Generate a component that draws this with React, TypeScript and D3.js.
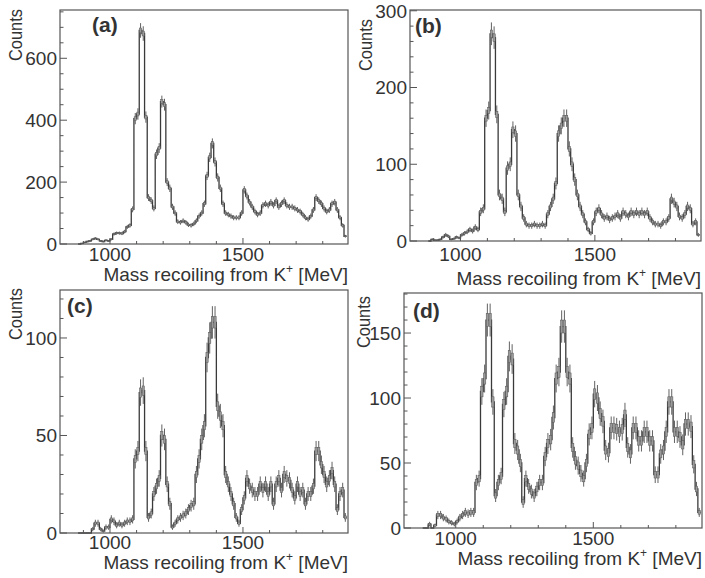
import React from "react";
import * as d3 from "d3";

// ---------- data ----------
const BIN_START = 880; // MeV, lower edge of first bin
const BIN_WIDTH = 10; // MeV

// (a)
const countsA = [
  0, 2, 5, 8, 10, 15, 18, 15, 10, 8,
  12, 10, 15, 32, 35, 35, 34, 40, 55, 60,
  112, 405, 420, 690, 680, 410, 150, 140, 115, 290,
  310, 460, 450, 200, 180, 120, 100, 72, 70, 75,
  70, 62, 60, 65, 75, 90, 100, 130, 220, 280,
  325, 265, 215, 180, 130, 100, 95, 90, 85, 85,
  85, 100, 175, 155, 135, 120, 105, 95, 100, 125,
  130, 125, 135, 125, 140, 120, 130, 140, 125, 120,
  120, 115, 110, 105, 95, 85, 80, 90, 110, 150,
  140, 130, 115, 105, 110, 130, 135, 110, 85, 60,
  25,
];
// (b)
const countsB = [
  0, 2, 1, 1, 2, 5, 8, 6, 2, 3,
  5, 4, 8, 10, 12, 15, 13, 18, 15, 38,
  42, 160, 170, 270, 265, 165, 60, 55, 38, 95,
  100, 145, 140, 60, 45, 30, 22, 20, 20, 22,
  20, 20, 22, 20, 35, 45, 55, 75, 140, 150,
  160, 160, 120, 100, 80, 60, 45, 35, 25, 15,
  10, 25, 38, 42, 35, 30, 32, 28, 30, 32,
  35, 30, 38, 35, 32, 38, 35, 38, 35, 38,
  35, 38, 30, 25, 22, 22, 20, 25, 25, 30,
  55, 50, 45, 32, 30, 35, 45, 42, 22, 25,
  8,
];
// (c)
const countsC = [
  0, 0, 0, 0, 0, 2, 5, 5, 2, 1,
  3, 3, 7, 6, 4, 5, 4, 5, 6, 6,
  7, 38, 42, 72, 73, 42, 8, 10, 20, 24,
  28, 50, 48, 25, 15, 3, 5, 7, 8, 9,
  10, 12, 14, 15, 30, 38, 48, 55, 90, 100,
  108, 108, 65, 60, 55, 30, 25, 20, 15, 8,
  5, 12, 18, 28, 24, 22, 20, 20, 25, 22,
  25, 20, 25, 15, 25, 28, 22, 30, 28, 27,
  22, 18, 25, 20, 22, 15, 20, 20, 24, 42,
  42, 35, 30, 25, 28, 32, 25, 12, 20, 22,
  8,
];
// (d)
const countsD = [
  0, 0, 3, 0, 2, 10, 10, 8, 7, 5,
  4, 3, 5, 8, 10, 12, 11, 12, 12, 35,
  38, 105, 115, 160, 160, 97, 25, 35, 40, 95,
  105, 132, 130, 65, 60, 50, 20, 38, 32, 28,
  25, 30, 35, 35, 55, 65, 68, 85, 115, 120,
  155, 155, 120, 115, 62, 52, 48, 42, 38, 50,
  72, 77, 103, 100, 88, 82, 60, 58, 77, 77,
  76, 74, 76, 87, 62, 57, 77, 77, 67, 67,
  74, 74, 67, 67, 41, 41, 57, 60, 74, 97,
  97, 74, 74, 70, 64, 80, 80, 78, 49, 30,
  12,
];

const X_DOMAIN = [812, 1895];
const xMajorTicks = [1000, 1500];
const xMinorTicks = [900, 1100, 1200, 1300, 1400, 1600, 1700, 1800];

const yTicksA = [0, 200, 400, 600];
const yTicksB = [0, 100, 200, 300];
const yTicksC = [0, 50, 100];
const yTicksD = [0, 50, 100, 150];

const panelLabels = ["(a)", "(b)", "(c)", "(d)"];
const xTitle = "Mass recoiling from K";
const xTitleSup = "+";
const xTitleUnit = " [MeV]";
const yTitle = "Counts";

// ---------- layout (positions / styles only) ----------
const layout = [
  { counts: countsA, yTicks: yTicksA, yMinor: 50, yMax: 756, l: 60, t: 10, r: 348, b: 244,
    labelX: 92, labelY: 32, cx: 15, cy: 35, xTitleY: 281, tickDy: 17, errK: 0.9, boxK: 0.3 },
  { counts: countsB, yTicks: yTicksB, yMinor: 20, yMax: 301, l: 410, t: 10, r: 701, b: 241,
    labelX: 415, labelY: 33, cx: 365, cy: 45, xTitleY: 285, tickDy: 20, errK: 0.9, boxK: 0.3 },
  { counts: countsC, yTicks: yTicksC, yMinor: 10, yMax: 124.6, l: 60, t: 290, r: 348, b: 533,
    labelX: 67, labelY: 313, cx: 15, cy: 314, xTitleY: 569, tickDy: 16, errK: 0.8, boxK: 0.28 },
  { counts: countsD, yTicks: yTicksD, yMinor: 10, yMax: 180.8, l: 404, t: 293, r: 702, b: 528,
    labelX: 413, labelY: 318, cx: 363, cy: 322, xTitleY: 565, tickDy: 17, errK: 1.0, boxK: 0.4 },
];

const FONT = "'Liberation Sans', Arial, Helvetica, sans-serif";
const INK = "#3a3a3a";
const TXT = "#333";

function Panel({ p, label }: { p: any; label: string }) {
  const x = d3.scaleLinear().domain(X_DOMAIN).range([p.l, p.r]);
  const y = d3.scaleLinear().domain([0, p.yMax]).range([p.b, p.t]);

  const bins = p.counts.map((c: number, i: number) => ({
    x0: BIN_START + i * BIN_WIDTH,
    x1: BIN_START + (i + 1) * BIN_WIDTH,
    c,
  }));

  const pts: [number, number][] = [];
  pts.push([x(bins[0].x0), y(0)]);
  bins.forEach((bn: any) => {
    pts.push([x(bn.x0), y(bn.c)]);
    pts.push([x(bn.x1), y(bn.c)]);
  });
  const stepPath = d3.line()(pts) || "";

  const minorY = d3.range(0, p.yMax + 0.001, p.yMinor).filter((v: number) => !p.yTicks.includes(v));

  return (
    <g>
      <defs>
        <clipPath id={"clip" + label}>
          <rect x={p.l} y={p.t} width={p.r - p.l} height={p.b - p.t} />
        </clipPath>
      </defs>
      <g clipPath={`url(#clip${label})`}>
        <path d={stepPath} fill="none" stroke={INK} strokeWidth={1.3} />
        {bins.filter((bn: any) => bn.c > 0).map((bn: any, i: number) => {
          const e = Math.sqrt(bn.c);
          const xm = x((bn.x0 + bn.x1) / 2);
          return (
            <g key={i}>
              <line x1={xm} x2={xm} y1={y(bn.c + p.errK * e)} y2={y(Math.max(0, bn.c - p.errK * e))}
                stroke={INK} strokeWidth={0.8} />
              <rect x={x(bn.x0) + 0.2} width={x(bn.x1) - x(bn.x0) - 0.4}
                y={y(bn.c + p.boxK * e)} height={Math.max(0.6, y(bn.c - p.boxK * e) - y(bn.c + p.boxK * e))}
                fill="#9a9a9a" stroke="#555" strokeWidth={0.5} />
            </g>
          );
        })}
      </g>
      <rect x={p.l} y={p.t} width={p.r - p.l} height={p.b - p.t} fill="none" stroke="#555" strokeWidth={1.2} />
      {xMajorTicks.map((v) => (
        <g key={"xm" + v}>
          <line x1={x(v)} x2={x(v)} y1={p.b} y2={p.b - 6} stroke="#555" strokeWidth={1} />
          <text x={x(v)} y={p.b + p.tickDy} textAnchor="middle" fontSize={19} fontFamily={FONT} fill={TXT}>{v}</text>
        </g>
      ))}
      {xMinorTicks.map((v) => (
        <line key={"xn" + v} x1={x(v)} x2={x(v)} y1={p.b} y2={p.b - 3} stroke="#555" strokeWidth={1} />
      ))}
      {p.yTicks.map((v: number) => (
        <g key={"ym" + v}>
          <line x1={p.l} x2={p.l + 7} y1={y(v)} y2={y(v)} stroke="#555" strokeWidth={1} />
          <text x={p.l - 3} y={y(v)} dy="0.36em" textAnchor="end" fontSize={19} fontFamily={FONT} fill={TXT}>{v}</text>
        </g>
      ))}
      {minorY.map((v: number) => (
        <line key={"yn" + v} x1={p.l} x2={p.l + 3.5} y1={y(v)} y2={y(v)} stroke="#555" strokeWidth={1} />
      ))}
      <text x={p.r} y={p.xTitleY} textAnchor="end" fontSize={19} fontFamily={FONT} fill={TXT}>
        {xTitle}
        <tspan fontSize={12} dy={-8}>{xTitleSup}</tspan>
        <tspan dy={8}>{xTitleUnit}</tspan>
      </text>
      <text transform={`translate(${p.cx + 7},${p.cy}) rotate(-90)`} textAnchor="middle" fontSize={19}
        textLength={52} lengthAdjust="spacingAndGlyphs" fontFamily={FONT} fill={TXT}>{yTitle}</text>
      <text x={p.labelX} y={p.labelY} fontSize={21} fontWeight="bold" fontFamily={FONT} fill={TXT}>{label}</text>
    </g>
  );
}

export default function App() {
  return (
    <svg width={705} height={578} viewBox="0 0 705 578"
      style={{ position: "absolute", left: 0, top: 0, background: "#fff" }}>
      <rect width={705} height={578} fill="#fff" />
      {layout.map((p, i) => (
        <Panel key={i} p={p} label={panelLabels[i]} />
      ))}
    </svg>
  );
}
